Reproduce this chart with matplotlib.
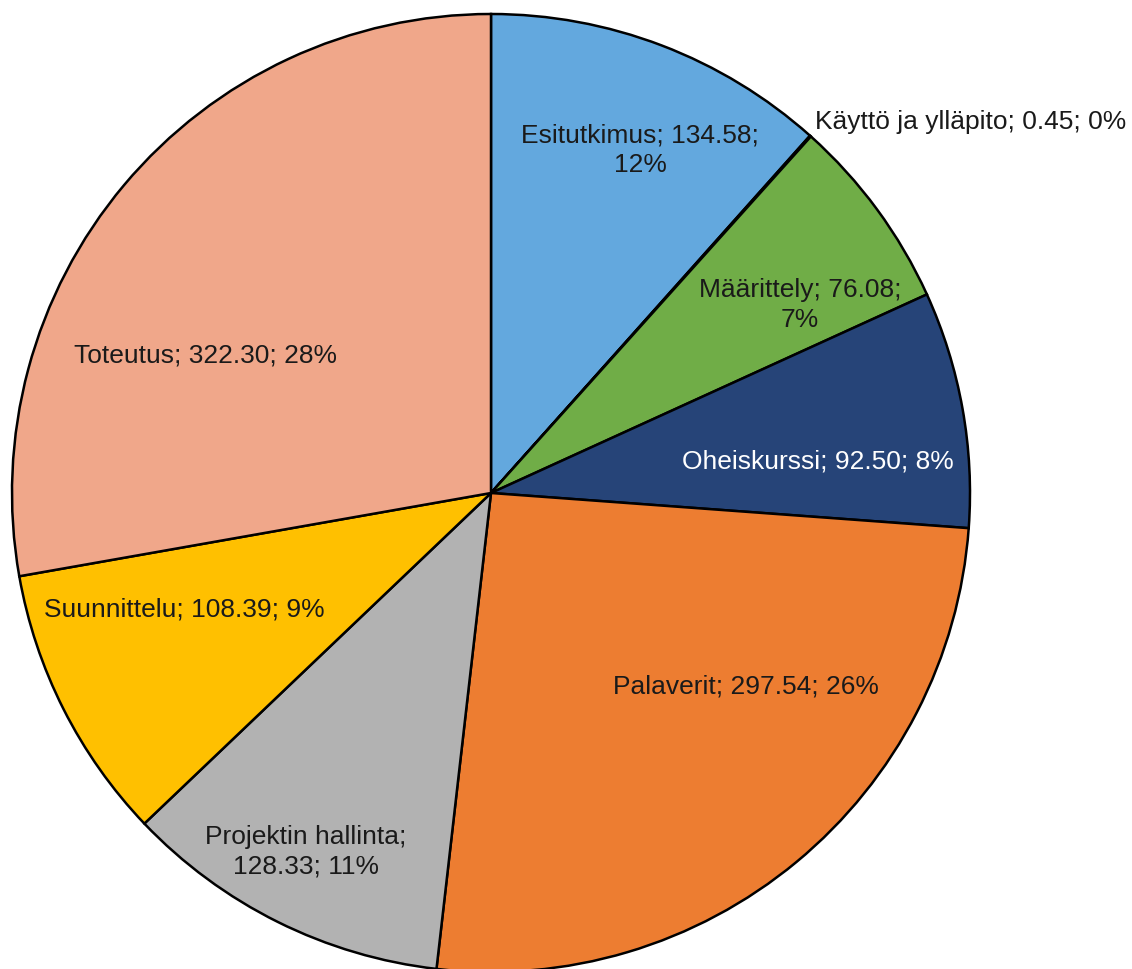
import matplotlib.pyplot as plt

plt.rcParams['font.family'] = ['Liberation Sans', 'DejaVu Sans']

# data
categories = ["Esitutkimus", "Käyttö ja ylläpito", "Määrittely", "Oheiskurssi",
              "Palaverit", "Projektin hallinta", "Suunnittelu", "Toteutus"]
hours = [134.58, 0.45, 76.08, 92.50, 297.54, 128.33, 108.39, 322.30]
colors = ["#63a8de", "#1f1f1f", "#70ad47", "#264478",
          "#ed7d31", "#b2b2b2", "#ffc000", "#f0a78a"]
label_text = ["Esitutkimus; 134.58;\n12%", "Käyttö ja ylläpito; 0.45; 0%",
              "Määrittely; 76.08;\n7%", "Oheiskurssi; 92.50; 8%",
              "Palaverit; 297.54; 26%", "Projektin hallinta;\n128.33; 11%",
              "Suunnittelu; 108.39; 9%", "Toteutus; 322.30; 28%"]
text_colors = ["#1a1a1a", "#1a1a1a", "#1a1a1a", "white",
               "#1a1a1a", "#1a1a1a", "#1a1a1a", "#1a1a1a"]
# label placement in units of pie radius
label_pos = [(0.311, 0.716), (0.676, 0.775), (0.645, 0.392), (0.683, 0.065),
             (0.532, -0.403), (-0.386, -0.749), (-0.641, -0.244), (-0.597, 0.288)]
label_ha = ["center", "left", "center", "center", "center", "center", "center", "center"]

W, H = 1132, 969
cx, cy, R = 491, 493, 479

fig = plt.figure(figsize=(W / 100, H / 100), dpi=100)
ax = fig.add_axes([0, 0, 1, 1])

ax.pie(hours, colors=colors, startangle=90, counterclock=False,
       wedgeprops=dict(edgecolor="black", linewidth=1.8))

for txt, (x, y), ha, c in zip(label_text, label_pos, label_ha, text_colors):
    ax.text(x, y, txt, ha=ha, va="center", fontsize=19, color=c,
            multialignment="center", linespacing=1.3)

ax.set_xlim(-cx / R, (W - cx) / R)
ax.set_ylim(-(H - cy) / R, cy / R)
ax.set_aspect("auto")
ax.axis("off")

fig.savefig("out.png", dpi=100)
